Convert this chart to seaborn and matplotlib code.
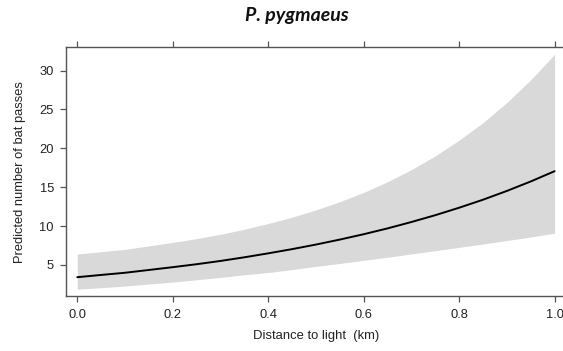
import matplotlib
matplotlib.use("Agg")
import matplotlib.pyplot as plt
import pandas as pd
import seaborn as sns

# Model predictions: distance to light (km) vs predicted bat passes, with 95% CI
distance_km = [0.00, 0.05, 0.10, 0.15, 0.20, 0.25, 0.30, 0.35, 0.40, 0.45, 0.50,
               0.55, 0.60, 0.65, 0.70, 0.75, 0.80, 0.85, 0.90, 0.95, 1.00]
predicted = [3.42, 3.71, 3.99, 4.35, 4.71, 5.09, 5.51, 5.98, 6.49, 7.03, 7.62,
             8.26, 8.95, 9.70, 10.52, 11.40, 12.36, 13.39, 14.52, 15.74, 17.06]
ci_upper = [6.40, 6.70, 7.00, 7.45, 7.90, 8.38, 8.94, 9.59, 10.33, 11.14, 12.08,
            13.13, 14.33, 15.70, 17.26, 19.03, 21.05, 23.31, 25.90, 28.83, 32.10]
ci_lower = [1.88, 2.07, 2.28, 2.54, 2.79, 3.09, 3.39, 3.73, 4.02, 4.40, 4.81,
            5.19, 5.59, 5.99, 6.41, 6.83, 7.26, 7.69, 8.14, 8.59, 9.08]

x_ticks = [0.0, 0.2, 0.4, 0.6, 0.8, 1.0]
x_tick_labels = ["0.0", "0.2", "0.4", "0.6", "0.8", "1.0"]
y_ticks = [5, 10, 15, 20, 25, 30]

df = pd.DataFrame({"distance": distance_km, "pred": predicted,
                   "lo": ci_lower, "hi": ci_upper})

sns.set_style("ticks")
plt.rcParams["font.family"] = ["Liberation Sans", "DejaVu Sans"]

fig = plt.figure(figsize=(5.63, 3.51), dpi=100)
ax = fig.add_axes([0.1167, 0.1567, 0.889, 0.7085])

ax.fill_between(df["distance"], df["lo"], df["hi"], color="#d9d9d9", linewidth=0)
sns.lineplot(data=df, x="distance", y="pred", ax=ax, color="black",
             linewidth=1.4, errorbar=None)

ax.set_xlim(-0.0243, 1.0243)
ax.set_ylim(1.0, 33.0)
ax.set_xticks(x_ticks)
ax.set_xticklabels(x_tick_labels)
ax.set_yticks(y_ticks)

spine_col = "#555555"
for s in ax.spines.values():
    s.set_visible(True)
    s.set_color(spine_col)
    s.set_linewidth(1.0)

ax.tick_params(axis="both", direction="out", length=4.5, width=0.9,
               color=spine_col, labelsize=9.3, labelcolor="#222222", pad=4)
ax.tick_params(axis="x", top=True, labeltop=False, pad=5)
ax.tick_params(axis="y", right=True, labelright=False)

ax.set_xlabel("Distance to light  (km)", fontsize=9.4, color="#222222", labelpad=6)
ax.set_ylabel("Predicted number of bat passes", fontsize=9.3, color="#222222", labelpad=10)

fig.text(0.528, 0.957, "P. pygmaeus", ha="center", va="center",
         fontsize=14, fontweight="bold", fontstyle="italic",
         family=["Lato", "DejaVu Sans"], color="#111111")

fig.savefig("out.png", dpi=100)
